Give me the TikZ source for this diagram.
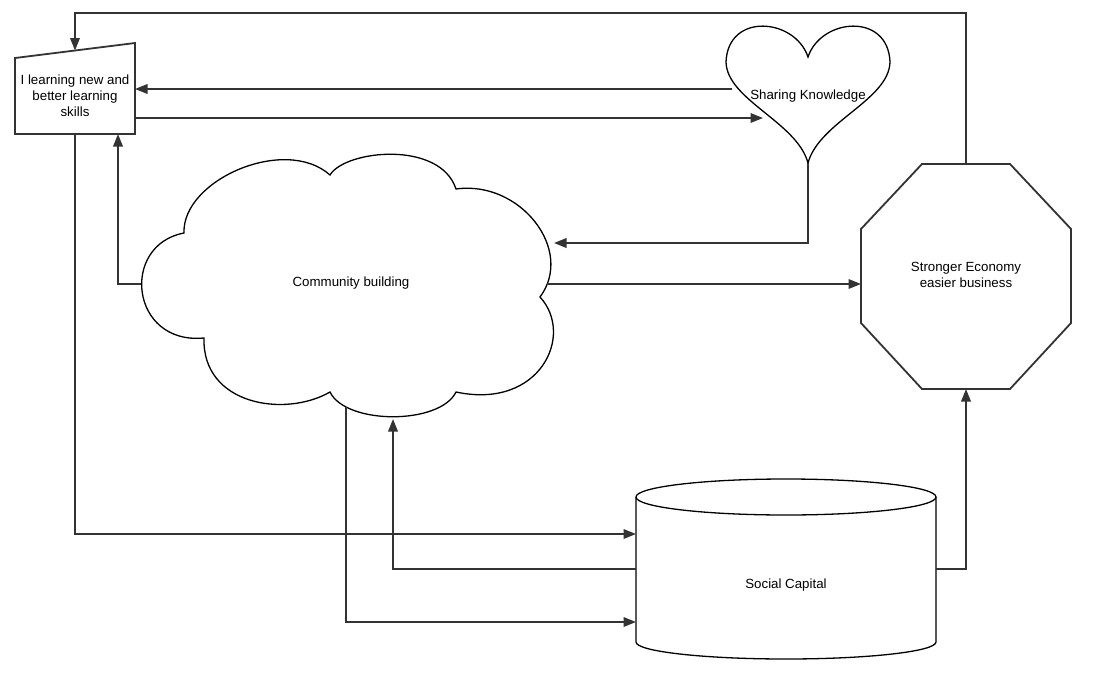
\documentclass[tikz,border=0pt]{standalone}
\usepackage{fontspec}
\setmainfont{Liberation Sans}
\usetikzlibrary{arrows.meta}
\definecolor{lineclr}{HTML}{333333}
\tikzset{
  shapeline/.style={draw=lineclr, line width=1.8pt, line join=miter},
  curveline/.style={draw=black, line width=1.3pt},
  conn/.style={draw=lineclr, line width=1.9pt, -{Triangle[length=12.5pt,width=9.5pt]}},
  lbl/.style={font=\fontsize{13.3}{16}\selectfont, align=center, inner sep=0pt},
}
\begin{document}
\begin{tikzpicture}[x=1pt,y=-1pt]
\useasboundingbox (0,0) rectangle (1100,680);
\fill[white] (0,0) rectangle (1100,680);

% manual input node
\draw[shapeline] (15,58) -- (135,43) -- (135,134) -- (15,134) -- cycle;
\node[lbl] (learn) at (75,96) {I learning new and\\better learning\\skills};
\coordinate (learnTop) at (75,50.5);
\coordinate (learnR1) at (135,89);
\coordinate (learnR2) at (135,118);
\coordinate (learnB1) at (75,134);
\coordinate (learnB2) at (118,134);

% heart
\draw[curveline] (808,57) .. controls (795,18) and (728,12) .. (726,62)
  .. controls (727,100) and (797,122) .. (808,163)
  .. controls (819,122) and (889,100) .. (890,62)
  .. controls (888,12) and (821,18) .. (808,57) -- cycle;
\node[lbl] (heart) at (808,96) {Sharing Knowledge};
\coordinate (heartL1) at (732,89);
\coordinate (heartL2) at (763,118);
\coordinate (heartB) at (808,163);

% cloud
\draw[curveline] (184,233)
  .. controls (182,180) and (285,135) .. (330,175)
  .. controls (345,150) and (440,140) .. (456,189)
  .. controls (520,180) and (575,250) .. (540,297)
  .. controls (575,335) and (540,410) .. (456,392)
  .. controls (440,425) and (346,425) .. (330,392)
  .. controls (285,418) and (202,405) .. (204,338)
  .. controls (130,345) and (120,245) .. (184,233) -- cycle;
\node[lbl] (cloud) at (351,283) {Community building};
\coordinate (cloudL) at (141,284);
\coordinate (cloudR) at (547,284);
\coordinate (cloudRU) at (554,243);
\coordinate (cloudB1) at (346,407);
\coordinate (cloudB2) at (393,419);

% octagon
\draw[shapeline] (922,164) -- (1010,164) -- (1071,229) -- (1071,323) -- (1010,389)
  -- (922,389) -- (861,323) -- (861,229) -- cycle;
\node[lbl] (econ) at (966,275) {Stronger Economy\\easier business};
\coordinate (econT) at (966,164);
\coordinate (econL) at (861,284);
\coordinate (econB) at (966,389);

% cylinder
\draw[curveline] (636,497) -- (636,642) arc[start angle=180, end angle=0, x radius=150, y radius=17] -- (936,497);
\draw[curveline] (786,497) ellipse[x radius=150, y radius=18];
\node[lbl] (social) at (786,585) {Social Capital};
\coordinate (socL1) at (636,534);
\coordinate (socL2) at (636,569);
\coordinate (socL3) at (636,622);
\coordinate (socR) at (936,569);

% connectors
\draw[conn] (econT) |- (75,13) -- (learnTop);
\draw[conn] (heartL1) -- (learnR1);
\draw[conn] (learnR2) -- (heartL2);
\draw[conn] (learnB1) |- (socL1);
\draw[conn] (cloudL) -| (learnB2);
\draw[conn] (heartB) |- (cloudRU);
\draw[conn] (cloudR) -- (econL);
\draw[conn] (socR) -| (econB);
\draw[conn] (socL2) -| (cloudB2);
\draw[conn] (cloudB1) |- (socL3);
\end{tikzpicture}
\end{document}
